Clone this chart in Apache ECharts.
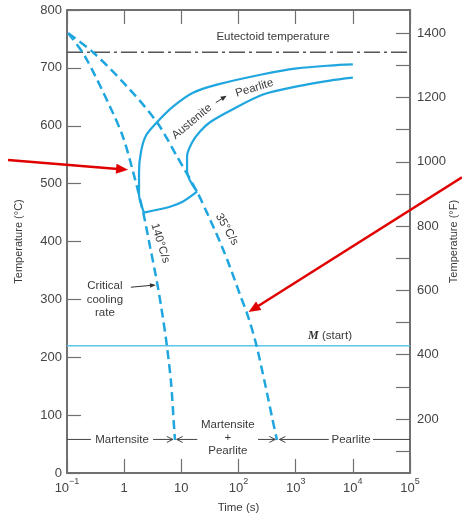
<!DOCTYPE html>
<html><head><meta charset="utf-8">
<script src="https://cdn.jsdelivr.net/npm/echarts@6/dist/echarts.min.js"></script>
<style>html,body{margin:0;padding:0;background:#fff}#c{width:462px;height:519px}</style>
</head><body><div id="c"></div>
<script>
// ---- data (time in s, temperature in °C) ----
const timeTicks = [0.1, 1, 10, 100, 1000, 10000, 100000];
const tempCTicks = [0, 100, 200, 300, 400, 500, 600, 700, 800];
const tempFTicks = [100, 200, 300, 400, 500, 600, 700, 800, 900, 1000, 1100, 1200, 1300, 1400];
const tempFLabels = [200, 400, 600, 800, 1000, 1200, 1400];
const eutectoidC = 727;
const mStartC = 220;
const cool140 = [[0.105,760],[0.206,720],[0.565,633],[0.95,581],[1.4,524],[2.1,455],[2.85,390],[3.75,330],[4.7,272],[5.5,225],[6.6,157],[7.4,85],[7.75,57]];
const cool35 = [[0.105,760],[0.285,727],[1.12,668],[3.75,606],[8.4,547],[18.8,486],[30.5,442],[51.4,391],[71,356],[110,304],[141,276],[202,224],[290,155],[385,97],[471,57]];
const startCurve = [[2.22,450],[1.82,481],[1.82,521],[1.97,555],[2.41,583],[3.75,606],[7.14,633],[16,657],[42,671],[268,689],[1054,699],[3980,704],[10000,706]];
const endCurve = [[18.8,486],[12.6,521],[12.6,547],[15.4,571],[21.2,590],[31.7,606],[71,626],[268,654],[1054,668],[3980,678],[10000,683]];
const bottomCurve = [[2.22,450],[6.34,460],[10.7,469],[18.8,486]];

const chart = echarts.init(document.getElementById('c'), null, {renderer: 'canvas'});
const blue = '#1fa6df';
const mBlue = '#5cc6e8';
const FONT = '"Liberation Sans", Arial, sans-serif';
const axisGray = '#707070';
const txt = '#3a3a3a';

function timeLabel(v) {
  const e = Math.round(Math.log10(v));
  if (e === 0) return '{b|1}';
  if (e === 1) return '{b|10}';
  return '{b|10}{s|' + (e < 0 ? '\u2212' + (-e) : e) + '}';
}
const richLbl = {
  b: {fontSize: 13, fontFamily: FONT, color: '#444', lineHeight: 18, verticalAlign: 'bottom'},
  s: {fontSize: 9, fontFamily: FONT, color: '#444', verticalAlign: 'top'}
};
function lineSeries(data, dashed, color, width) {
  return {
    type: 'line', data: data, xAxisIndex: 0, yAxisIndex: 0,
    showSymbol: false, symbol: 'none', smooth: 0.3, silent: true,
    lineStyle: {color: color || blue, width: width || 2.2, type: dashed ? [9, 5] : 'solid'}
  };
}

const option = {
  animation: false,
  backgroundColor: '#fff',
  grid: {left: 67, right: 52, top: 10, bottom: 46, outerBoundsMode: 'none', containLabel: false},
  xAxis: [{
    type: 'log', logBase: 10, min: timeTicks[0], max: timeTicks[timeTicks.length - 1], position: 'bottom',
    axisLine: {lineStyle: {color: axisGray, width: 2}},
    axisTick: {inside: true, length: 14, lineStyle: {color: axisGray, width: 1.2}},
    axisLabel: {formatter: timeLabel, margin: 4, rich: richLbl},
    splitLine: {show: false}, minorTick: {show: false}, minorSplitLine: {show: false},
    name: 'Time (s)', nameLocation: 'middle', nameGap: 29, nameMoveOverlap: false,
    nameTextStyle: {fontFamily: FONT, fontSize: 11.5, color: txt}
  }, {
    type: 'log', logBase: 10, min: timeTicks[0], max: timeTicks[timeTicks.length - 1], position: 'top',
    axisLine: {lineStyle: {color: axisGray, width: 2}},
    axisTick: {inside: true, length: 14, lineStyle: {color: axisGray, width: 1.2}},
    axisLabel: {show: false}, splitLine: {show: false}
  }],
  yAxis: [{
    type: 'value', min: tempCTicks[0], max: tempCTicks[tempCTicks.length - 1], interval: 100, position: 'left',
    axisLine: {show: true, lineStyle: {color: axisGray, width: 2}},
    axisTick: {show: true, inside: true, length: 14, lineStyle: {color: axisGray, width: 1.2}},
    axisLabel: {margin: 5, fontFamily: FONT, fontSize: 13, color: '#444', formatter: v => String(v)},
    splitLine: {show: false},
    name: 'Temperature (\u00b0C)', nameLocation: 'middle', nameGap: 43, nameRotate: 90, nameMoveOverlap: false,
    nameTextStyle: {fontFamily: FONT, fontSize: 11, color: txt}
  }, {
    type: 'value', min: 32, max: 1472, position: 'right',
    axisLine: {show: true, lineStyle: {color: axisGray, width: 2}},
    axisTick: {show: true, inside: true, length: 14, customValues: tempFTicks, lineStyle: {color: axisGray, width: 1.2}},
    axisLabel: {margin: 7, fontFamily: FONT, fontSize: 13, color: '#444', customValues: tempFLabels, formatter: v => String(v)},
    splitLine: {show: false},
    name: 'Temperature (\u00b0F)', nameLocation: 'middle', nameGap: 38, nameRotate: 90, nameMoveOverlap: false,
    nameTextStyle: {fontFamily: FONT, fontSize: 11, color: txt}
  }],
  series: [
    {type: 'line', data: [[timeTicks[0], eutectoidC], [timeTicks[6], eutectoidC]], showSymbol: false, symbol: 'none', silent: true,
     lineStyle: {color: '#555', width: 1.6, type: [16, 4, 3, 4]}},
    {type: 'line', data: [[timeTicks[0], mStartC], [timeTicks[6], mStartC]], showSymbol: false, symbol: 'none', silent: true,
     lineStyle: {color: mBlue, width: 1.6}},
    lineSeries(startCurve, false),
    lineSeries(endCurve, false),
    lineSeries(bottomCurve, false),
    lineSeries(cool140, true, blue, 2.5),
    lineSeries(cool35, true, blue, 2.5)
  ]
};
chart.setOption(option);

// ---- annotations placed through the axes ----
function P(t, T) { return chart.convertToPixel({xAxisIndex: 0, yAxisIndex: 0}, [t, T]); }
const g = [];
function text(t, T, s, opt) {
  const p = P(t, T);
  opt = opt || {};
  g.push({type: 'text', x: p[0], y: p[1], rotation: (opt.rot || 0) * Math.PI / 180, z: 10,
    style: Object.assign({text: s, font: (opt.size || 11.5) + 'px ' + FONT, fill: opt.color || txt,
      align: 'center', verticalAlign: 'middle', lineHeight: opt.lh || 13}, opt.style || {})});
}
function seg(a, b, color, w) {
  const p1 = P(a[0], a[1]), p2 = P(b[0], b[1]);
  g.push({type: 'line', z: 9, shape: {x1: p1[0], y1: p1[1], x2: p2[0], y2: p2[1]}, style: {stroke: color, lineWidth: w}});
}
function arrow(a, b, color, w, hl, hw, open) {
  const p1 = P(a[0], a[1]), p2 = P(b[0], b[1]);
  const dx = p2[0] - p1[0], dy = p2[1] - p1[1], L = Math.hypot(dx, dy);
  const ux = dx / L, uy = dy / L, nx = -uy, ny = ux;
  const bx = p2[0] - ux * hl, by = p2[1] - uy * hl;
  g.push({type: 'line', z: 9, shape: {x1: p1[0], y1: p1[1], x2: open ? p2[0] : bx + ux * 2, y2: open ? p2[1] : by + uy * 2}, style: {stroke: color, lineWidth: w}});
  if (open) {
    g.push({type: 'polyline', z: 9, shape: {points: [[bx + nx * hw, by + ny * hw], [p2[0], p2[1]], [bx - nx * hw, by - ny * hw]]}, style: {stroke: color, lineWidth: 1, fill: null}});
  } else {
    g.push({type: 'polygon', z: 9, shape: {points: [[p2[0], p2[1]], [bx + nx * hw, by + ny * hw], [bx - nx * hw, by - ny * hw]]}, style: {fill: color}});
  }
}

text(401, 754, 'Eutectoid temperature', {size: 11.5});
text(15.3, 607, 'Austenite', {size: 11.5, rot: 40});
arrow([40, 640], [62, 652], '#333', 1, 6, 2.5, false);
text(190, 665, 'Pearlite', {size: 11.5, rot: 17});
text(4.3, 397, '140\u00b0C/s', {size: 11.5, rot: -73});
text(63, 421, '35\u00b0C/s', {size: 11.5, rot: -60});
text(0.46, 300, 'Critical\ncooling\nrate', {size: 11.5, lh: 13.5});
arrow([1.31, 321], [3.6, 325], '#333', 1, 6, 2.2, false);
const mp = P(3980, 237);
g.push({type: 'text', x: mp[0], y: mp[1], z: 10, style: {
  text: '{m|M} {s|(start)}', align: 'center', verticalAlign: 'middle',
  rich: {m: {font: 'italic bold 12px "Liberation Serif", serif', fill: '#333'}, s: {font: '11.5px ' + FONT, fill: txt}}}});

// bottom region labels
const yB = 58;
text(0.92, yB, 'Martensite', {size: 11.5});
text(65, 60, 'Martensite\n+\nPearlite', {size: 11.5, lh: 13});
text(9300, yB, 'Pearlite', {size: 11.5});
seg([0.1, yB], [0.262, yB], '#444', 1);
arrow([3.2, yB], [7.1, yB], '#444', 1, 6, 3, true);
arrow([19, yB], [8.3, yB], '#444', 1, 6, 3, true);
arrow([219, yB], [440, yB], '#444', 1, 6, 3, true);
arrow([3800, yB], [520, yB], '#444', 1, 6, 3, true);
seg([22500, yB], [100000, yB], '#444', 1);

// red arrows
arrow([0.0093, 541], [1.17, 524], '#e00000', 2.5, 12, 5, false);
arrow([811000, 511], [150, 278], '#e00000', 2.5, 12, 5, false);

chart.setOption({graphic: g});
</script></body></html>
